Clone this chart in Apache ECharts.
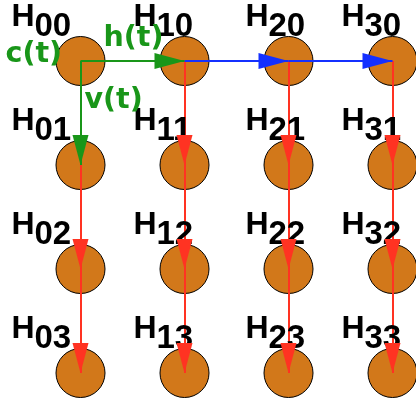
<!DOCTYPE html>
<html>
<head>
<meta charset="utf-8">
<script src="https://cdn.jsdelivr.net/npm/echarts@6/dist/echarts.min.js"></script>
<style>html,body{margin:0;padding:0;background:#fff}#c{width:416px;height:400px}</style>
</head>
<body>
<div id="c"></div>
<script>
// ---- data ----
const cols = [0, 1, 2, 3];
const rows = [0, 1, 2, 3];
const nodeLabels = ['H', 'H', 'H', 'H'];
const subscripts = [
  ['00', '01', '02', '03'],
  ['10', '11', '12', '13'],
  ['20', '21', '22', '23'],
  ['30', '31', '32', '33']
];
const greenEdges = [[[0, 0], [1, 0]], [[0, 0], [0, 1]]];
const blueEdges = [[[1, 0], [2, 0]], [[2, 0], [3, 0]]];
const redEdges = [
  [[0, 1], [0, 2]], [[0, 2], [0, 3]],
  [[1, 0], [1, 1]], [[1, 1], [1, 2]], [[1, 2], [1, 3]],
  [[2, 0], [2, 1]], [[2, 1], [2, 2]], [[2, 2], [2, 3]],
  [[3, 0], [3, 1]], [[3, 1], [3, 2]], [[3, 2], [3, 3]]
];
const edgeTexts = ['c(t)', 'h(t)', 'v(t)'];

// ---- styles ----
const ORANGE = '#D2781A', GREEN = '#199619', BLUE = '#1430FF', RED = '#FF3322';
const HFONT = 'Liberation Sans', GFONT = 'DejaVu Sans';
const colDx = [-69, -51, -43, -51];
const SUB_DX = 23, H_DY = -60, SUB_DY = -51;
const DOWN = 'path://M0,0L16,0L8,30Z';
const RIGHT = 'path://M0,0L30,8L0,16Z';

const nodes = [];
cols.forEach(c => rows.forEach(r => nodes.push({ value: [c, r], name: nodeLabels[c] + subscripts[c][r] })));

function edgeLines(edges, color) {
  return edges.map(e => ({ coords: e, lineStyle: { color: color } }));
}
function arrowHeads(edges, color) {
  return edges.map(e => {
    const horiz = e[0][1] === e[1][1];
    return {
      value: e[1],
      symbol: horiz ? RIGHT : DOWN,
      symbolSize: horiz ? [30, 16] : [16, 30],
      symbolOffset: horiz ? [-15, 0] : [0, -15],
      itemStyle: { color: color, opacity: 1 }
    };
  });
}

const hData = [], subData = [];
cols.forEach(c => rows.forEach(r => {
  hData.push({ value: [c, r], txt: nodeLabels[c], label: { offset: [colDx[c], H_DY] } });
  subData.push({ value: [c, r], txt: subscripts[c][r], label: { offset: [colDx[c] + SUB_DX, SUB_DY] } });
}));

const annot = [
  { value: [0, 0], txt: edgeTexts[0], label: { offset: [-75, -6] } },
  { value: [0.5, 0], txt: edgeTexts[1], label: { offset: [-29, -22] } },
  { value: [0, 0.5], txt: edgeTexts[2], label: { offset: [4, -12] } }
];

const textLabel = (color, va, font, size) => ({
  show: true, position: 'inside', align: 'left', verticalAlign: va,
  formatter: p => p.data.txt,
  fontFamily: font, fontWeight: 'bold', fontSize: size, lineHeight: size, color: color,
  textBorderWidth: 0, opacity: 1
});
const labelSeries = (data, label) => ({
  type: 'scatter', z: 3, silent: true, symbolSize: 0, data: data,
  itemStyle: { opacity: 1 }, label: label
});

const chart = echarts.init(document.getElementById('c'), null, { renderer: 'canvas' });
chart.setOption({
  animation: false,
  backgroundColor: '#fff',
  grid: { left: 0, right: 0, top: 0, bottom: 0 },
  xAxis: { type: 'value', min: -80.5 / 104, max: (416 - 80.5) / 104, show: false },
  yAxis: { type: 'value', min: -61 / 104, max: (400 - 61) / 104, inverse: true, show: false },
  series: [
    {
      type: 'scatter', z: 1, data: nodes, symbol: 'circle', symbolSize: 49,
      itemStyle: { color: ORANGE, borderColor: '#000', borderWidth: 1, opacity: 1 },
      emphasis: { disabled: true }, silent: true
    },
    {
      type: 'lines', coordinateSystem: 'cartesian2d', z: 2, silent: true,
      lineStyle: { width: 2, opacity: 1 },
      data: [].concat(edgeLines(redEdges, RED), edgeLines(blueEdges, BLUE), edgeLines(greenEdges, GREEN))
    },
    labelSeries(hData, textLabel('#000', 'top', HFONT, 32)),
    labelSeries(subData, textLabel('#000', 'top', HFONT, 33)),
    labelSeries(annot, textLabel(GREEN, 'middle', GFONT, 28.5)),
    {
      type: 'scatter', z: 4, silent: true, itemStyle: { opacity: 1 },
      data: [].concat(arrowHeads(redEdges, RED), arrowHeads(blueEdges, BLUE), arrowHeads(greenEdges, GREEN))
    }
  ]
});
</script>
</body>
</html>
